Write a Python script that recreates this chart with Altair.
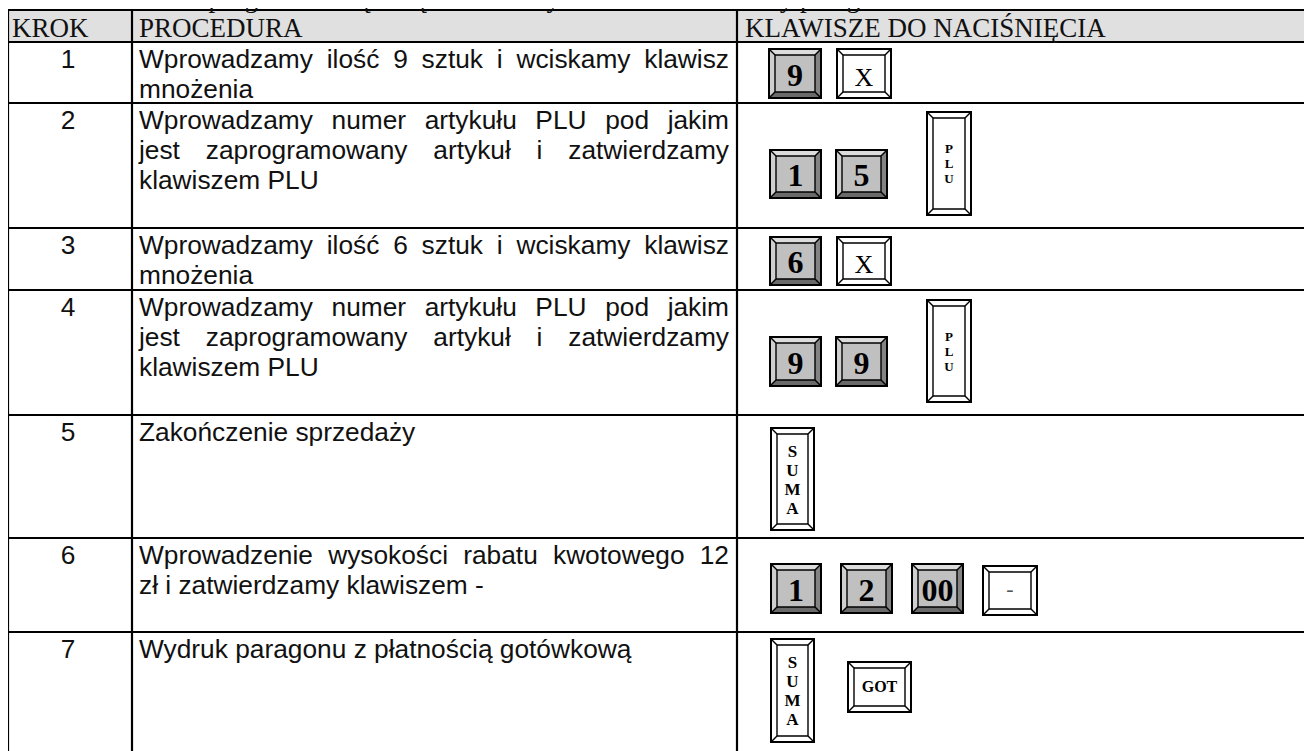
import altair as alt
import pandas as pd

# ---------------- content ----------------
title_text = "o numerze 99 z zaprogramowaną ceną i udzielamy 12 zł rabatu do sumy paragonu"
headers = ["KROK", "PROCEDURA", "KLAWISZE DO NACIŚNIĘCIA"]
steps = ["1", "2", "3", "4", "5", "6", "7"]
procedure = [
    ["Wprowadzamy ilość 9 sztuk i wciskamy klawisz", "mnożenia"],
    ["Wprowadzamy numer artykułu PLU pod jakim", "jest zaprogramowany artykuł i zatwierdzamy", "klawiszem PLU"],
    ["Wprowadzamy ilość 6 sztuk i wciskamy klawisz", "mnożenia"],
    ["Wprowadzamy numer artykułu PLU pod jakim", "jest zaprogramowany artykuł i zatwierdzamy", "klawiszem PLU"],
    ["Zakończenie sprzedaży"],
    ["Wprowadzenie wysokości rabatu kwotowego 12", "zł i zatwierdzamy klawiszem -"],
    ["Wydruk paragonu z płatnością gotówkową"],
]
justified = [[True, False], [True, True, False], [True, False], [True, True, False], [False], [True, False], [False]]
keys = [["9", "X"], ["1", "5", "PLU"], ["6", "X"], ["9", "9", "PLU"], ["SUMA"], ["1", "2", "00", "-"], ["SUMA", "GOT"]]

# ---------------- layout (page pixels) ----------------
W, H = 1296, 743
ROW_EDGES = [10, 42, 103, 228, 290, 415, 538, 632, 770]
COL_EDGES = [8, 132, 737, 1320]
HEADER_X = [12, 139, 745]
HEADER_BASE = 37
TITLE_X, TITLE_BASE = 12, 7
STEP_CX = 68
TEXT_L, TEXT_R = 139, 729
FIRST_BASE, LINE_H = 25.5, 30.3
FS = 26.3
KEY_BOXES = [
    [(769, 821, 49, 98), (837, 891, 49, 98)],
    [(770, 821, 150, 198), (836, 887, 150, 198), (927, 971, 112, 215)],
    [(770, 821, 237, 285), (837, 891, 237, 285)],
    [(770, 821, 337, 386), (836, 887, 337, 386), (927, 971, 300, 402)],
    [(771, 814, 428, 530)],
    [(771, 821, 564, 613), (841, 892, 564, 613), (912, 963, 564, 613), (983, 1037, 566, 615)],
    [(771, 814, 639, 742), (848, 911, 662, 712)],
]
BEVEL = 6

AW = {' ': 278, 'a': 556, 'b': 556, 'c': 500, 'd': 556, 'e': 556, 'f': 278, 'g': 556, 'h': 556,
      'i': 222, 'j': 222, 'k': 500, 'l': 222, 'm': 833, 'n': 556, 'o': 556, 'p': 556, 'q': 556,
      'r': 333, 's': 500, 't': 278, 'u': 556, 'v': 500, 'w': 722, 'x': 500, 'y': 500, 'z': 500,
      'W': 944, 'P': 667, 'L': 556, 'U': 722, 'Z': 611, '-': 333,
      'ś': 500, 'ć': 500, 'ń': 556, 'ż': 500, 'ę': 556, 'ó': 556, 'ą': 556, 'ł': 222}


def text_w(s, size):
    return sum(AW.get(c, 556) for c in s) * size / 1000.0


xs = alt.Scale(domain=[8, 8 + W], range=[0, W], nice=False, zero=False)
ys = alt.Scale(domain=[8, 8 + H], reverse=True, nice=False, zero=False)


def X(f="x"):
    return alt.X(f"{f}:Q", scale=xs, axis=None)


def Y(f="y", stack=False):
    if stack:
        return alt.Y(f"{f}:Q", scale=ys, axis=None, stack=None)
    return alt.Y(f"{f}:Q", scale=ys, axis=None)


layers = []

# header background
hdr = pd.DataFrame([{"x": COL_EDGES[0], "x2": COL_EDGES[-1], "y": ROW_EDGES[0], "y2": ROW_EDGES[1]}])
layers.append(alt.Chart(hdr).mark_rect(color="#e0e0e0").encode(x=X(), x2="x2:Q", y=Y(), y2="y2:Q"))

# grid lines
lines = [{"x": COL_EDGES[0] - 1, "x2": COL_EDGES[-1], "y": y, "y2": y} for y in ROW_EDGES[:-1]]
lines += [{"x": x, "x2": x, "y": ROW_EDGES[0], "y2": ROW_EDGES[-1]} for x in COL_EDGES[:-1]]
layers.append(alt.Chart(pd.DataFrame(lines)).mark_rule(color="black", strokeWidth=2.2)
              .encode(x=X(), x2="x2:Q", y=Y(), y2="y2:Q"))

# title + headers (Times)
serif_txt = [{"x": TITLE_X, "y": TITLE_BASE, "t": title_text}]
serif_txt += [{"x": hx, "y": HEADER_BASE, "t": h} for hx, h in zip(HEADER_X, headers)]
layers.append(alt.Chart(pd.DataFrame(serif_txt)).mark_text(
    font="Liberation Serif", fontSize=27, align="left", baseline="alphabetic", color="#111111")
    .encode(x=X(), y=Y(), text="t:N"))

# step numbers
step_df = pd.DataFrame([{"x": STEP_CX, "y": ROW_EDGES[i + 1] + FIRST_BASE, "t": s} for i, s in enumerate(steps)])
layers.append(alt.Chart(step_df).mark_text(
    font="Liberation Sans", fontSize=FS, align="center", baseline="alphabetic", color="#111111")
    .encode(x=X(), y=Y(), text="t:N"))

# procedure words (justified emulation)
left_words, right_words = [], []
for r, lns in enumerate(procedure):
    top = ROW_EDGES[r + 1]
    for i, line in enumerate(lns):
        base = top + FIRST_BASE + i * LINE_H
        words = line.split(" ")
        if justified[r][i] and len(words) > 1:
            ws = [text_w(w, FS) for w in words]
            gap = (TEXT_R - TEXT_L - sum(ws)) / (len(words) - 1)
            x = TEXT_L
            for j, w in enumerate(words):
                if j == len(words) - 1:
                    right_words.append({"x": TEXT_R, "y": base, "t": w})
                else:
                    left_words.append({"x": x, "y": base, "t": w})
                x += ws[j] + gap
        else:
            left_words.append({"x": TEXT_L, "y": base, "t": line})
layers.append(alt.Chart(pd.DataFrame(left_words)).mark_text(
    font="Liberation Sans", fontSize=FS, align="left", baseline="alphabetic", color="#111111")
    .encode(x=X(), y=Y(), text="t:N"))
layers.append(alt.Chart(pd.DataFrame(right_words)).mark_text(
    font="Liberation Sans", fontSize=FS, align="right", baseline="alphabetic", color="#111111")
    .encode(x=X(), y=Y(), text="t:N"))

# ---------------- keys ----------------
krows, top_b, bot_b, left_b, right_b, diag, labels = [], [], [], [], [], [], []
b = BEVEL
for r, (labs, boxes) in enumerate(zip(keys, KEY_BOXES)):
    for j, (lab, box) in enumerate(zip(labs, boxes)):
        x0, x1, y0, y1 = box
        k = f"{r}-{j}"
        gray = lab.isdigit()
        krows.append({"k": k, "x": x0, "x2": x1, "y": y0, "y2": y1,
                      "base": "#7c7c7c" if gray else "#ffffff",
                      "face": "#c0c0c0" if gray else "#ffffff",
                      "ix": x0 + b, "ix2": x1 - b, "iy": y0 + b, "iy2": y1 - b})
        if gray:
            top_b += [{"k": k, "x": x0, "y": y0, "y2": y0}, {"k": k, "x": x0 + b, "y": y0, "y2": y0 + b},
                      {"k": k, "x": x1 - b, "y": y0, "y2": y0 + b}, {"k": k, "x": x1, "y": y0, "y2": y0}]
            bot_b += [{"k": k, "x": x0, "y": y1, "y2": y1}, {"k": k, "x": x0 + b, "y": y1 - b, "y2": y1},
                      {"k": k, "x": x1 - b, "y": y1 - b, "y2": y1}, {"k": k, "x": x1, "y": y1, "y2": y1}]
            left_b += [{"k": k, "y": y0, "x": x0, "x2": x0}, {"k": k, "y": y0 + b, "x": x0, "x2": x0 + b},
                       {"k": k, "y": y1 - b, "x": x0, "x2": x0 + b}, {"k": k, "y": y1, "x": x0, "x2": x0}]
            right_b += [{"k": k, "y": y0, "x": x1, "x2": x1}, {"k": k, "y": y0 + b, "x": x1 - b, "x2": x1},
                        {"k": k, "y": y1 - b, "x": x1 - b, "x2": x1}, {"k": k, "y": y1, "x": x1, "x2": x1}]
        diag += [{"x": x0, "y": y0, "x2": x0 + b, "y2": y0 + b}, {"x": x1, "y": y0, "x2": x1 - b, "y2": y0 + b},
                 {"x": x0, "y": y1, "x2": x0 + b, "y2": y1 - b}, {"x": x1, "y": y1, "x2": x1 - b, "y2": y1 - b}]
        cx, cy = (x0 + x1) / 2, (y0 + y1) / 2
        if lab in ("PLU", "SUMA"):
            step = 15 if lab == "PLU" else 19
            cap = 9 if lab == "PLU" else 12
            n = len(lab)
            for i, ch in enumerate(lab):
                labels.append({"x": cx, "y": cy + (i - (n - 1) / 2) * step + cap / 2, "t": ch,
                               "g": "plu" if lab == "PLU" else "suma"})
        elif lab.isdigit():
            labels.append({"x": cx, "y": cy + 12, "t": lab, "g": "digit"})
        elif lab == "X":
            labels.append({"x": cx, "y": cy + 12, "t": lab, "g": "x"})
        elif lab == "GOT":
            labels.append({"x": cx, "y": cy + 5, "t": lab, "g": "got"})
        else:
            labels.append({"x": cx, "y": cy + 5.5, "t": lab, "g": "minus"})

kdf = pd.DataFrame(krows)
layers.append(alt.Chart(kdf).mark_rect().encode(
    x=X(), x2="x2:Q", y=Y(), y2="y2:Q", color=alt.Color("base:N", scale=None)))
for data, col in ((top_b, "#dcdcdc"), (bot_b, "#6a6a6a")):
    layers.append(alt.Chart(pd.DataFrame(data)).mark_area(orient="vertical", color=col).encode(
        x=X(), y=Y(stack=True), y2="y2:Q", detail="k:N"))
for data, col in ((left_b, "#cfcfcf"), (right_b, "#838383")):
    layers.append(alt.Chart(pd.DataFrame(data)).mark_area(orient="horizontal", color=col).encode(
        y=Y(), x=alt.X("x:Q", scale=xs, axis=None, stack=None), x2="x2:Q", detail="k:N"))
layers.append(alt.Chart(kdf).mark_rect(stroke="black", strokeWidth=1.4).encode(
    x=X("ix"), x2="ix2:Q", y=Y("iy"), y2="iy2:Q", fill=alt.Fill("face:N", scale=None)))
layers.append(alt.Chart(pd.DataFrame(diag)).mark_rule(color="black", strokeWidth=1.4).encode(
    x=X(), x2="x2:Q", y=Y(), y2="y2:Q"))
layers.append(alt.Chart(kdf).mark_rect(fillOpacity=0, stroke="black", strokeWidth=2).encode(
    x=X(), x2="x2:Q", y=Y(), y2="y2:Q"))

ldf = pd.DataFrame(labels)
styles = {
    "digit": dict(fontSize=32, fontWeight="bold", color="black"),
    "x": dict(fontSize=26, fontWeight="normal", color="black"),
    "got": dict(fontSize=16, fontWeight="bold", color="black"),
    "minus": dict(fontSize=22, fontWeight="normal", color="#555555"),
    "plu": dict(fontSize=13, fontWeight="bold", color="black"),
    "suma": dict(fontSize=17, fontWeight="bold", color="black"),
}
for g, st in styles.items():
    sub = ldf[ldf["g"] == g]
    if len(sub):
        layers.append(alt.Chart(sub).mark_text(font="Liberation Serif", align="center",
                                               baseline="alphabetic", **st)
                      .encode(x=X(), y=Y(), text="t:N"))

chart = alt.layer(*layers).properties(
    width=W, height=H, padding=0, autosize="none", background="white"
).configure_view(strokeWidth=0)

chart.save("out.html", embed_options={"renderer": "svg", "actions": False})
